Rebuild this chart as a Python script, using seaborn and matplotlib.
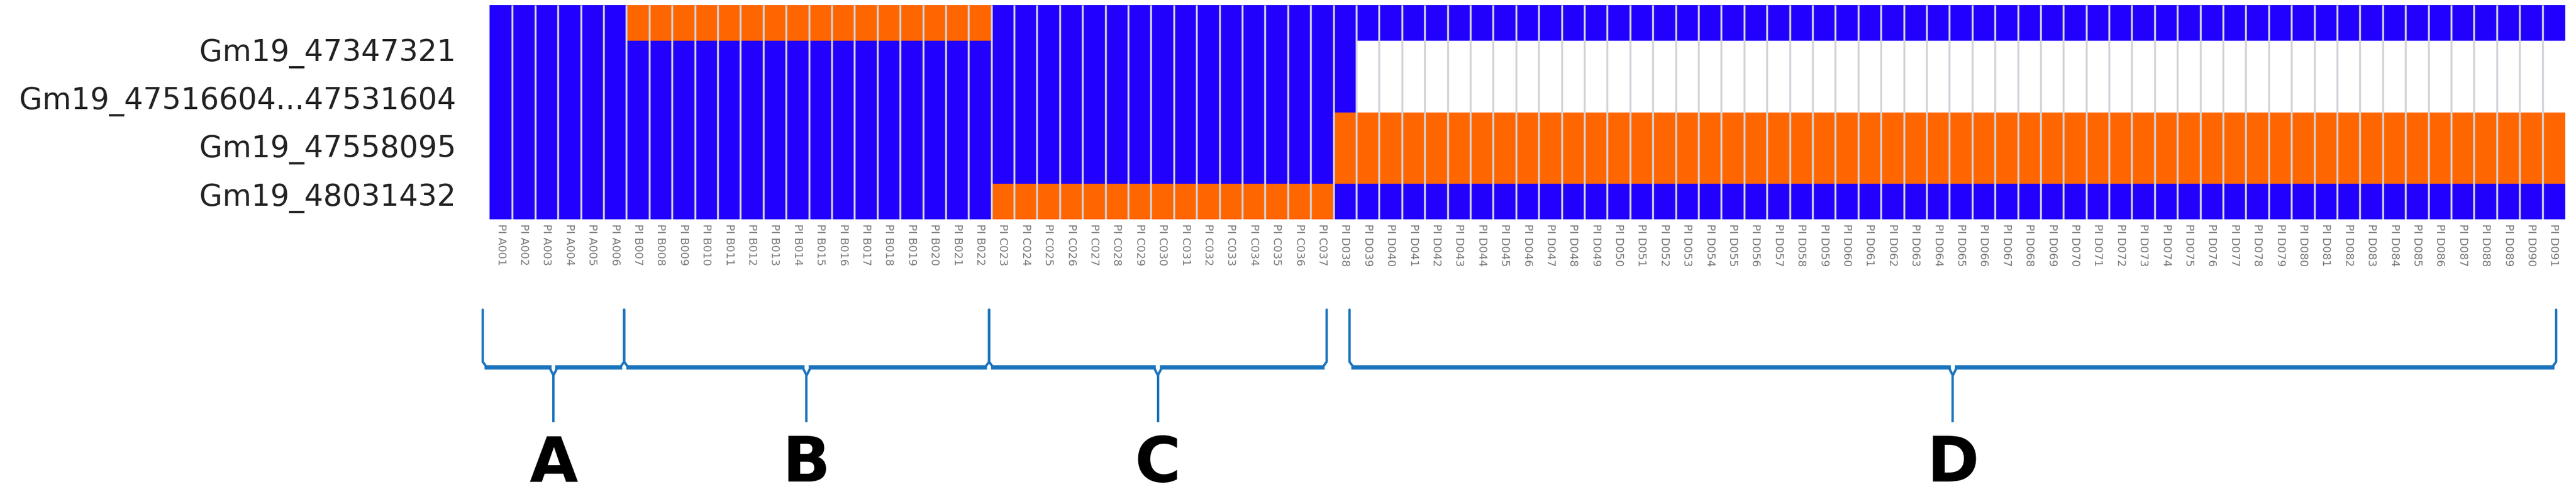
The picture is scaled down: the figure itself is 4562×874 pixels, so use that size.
import matplotlib
matplotlib.use("Agg")
import matplotlib.pyplot as plt
import numpy as np
import seaborn as sns
from matplotlib.colors import ListedColormap
from matplotlib.transforms import blended_transform_factory

# markers (rows) as they appear top to bottom
markers = ["Gm19_47347321", "Gm19_47516604...47531604", "Gm19_47558095", "Gm19_48031432"]

# haplotype groups left to right, number of accessions in each, and allele calls per marker
# 0 = blue allele, 1 = orange allele, nan = missing (white)
hap_names = ["A", "B", "C", "D0", "D"]
hap_counts = [6, 16, 15, 1, 53]
calls_A = [0, 0, 0, 0]
calls_B = [1, 0, 0, 0]
calls_C = [0, 0, 0, 1]
calls_D0 = [0, 0, 1, 0]
calls_D = [0, np.nan, 1, 0]
hap_calls = [calls_A, calls_B, calls_C, calls_D0, calls_D]

# bracket labels and their column spans
brace_labels = ["A", "B", "C", "D"]
brace_start = [-0.3, 5.9, 21.9, 37.7]
brace_end = [5.9, 21.9, 36.7, 90.6]

BLUE = "#2100fe"
ORANGE = "#ff6600"
BRACE = "#1a73bd"

# build the genotype matrix
cols = []
sample_ids = []
for name, n, calls in zip(hap_names, hap_counts, hap_calls):
    for k in range(n):
        cols.append(calls)
        sample_ids.append(f"PI {name[0]}{len(sample_ids) + 1:03d}")
geno = np.array(cols, dtype=float).T

# the source figure draws the middle two markers twice as tall
row_weights = [1, 2, 2, 1]
geno_disp = np.repeat(geno, row_weights, axis=0)

fig = plt.figure(figsize=(45.62, 8.74), dpi=100)
ax = fig.add_axes([867 / 4562, 1 - 388 / 874, (4543 - 867) / 4562, (388 - 9) / 874])

sns.heatmap(
    geno_disp, ax=ax, cmap=ListedColormap([BLUE, ORANGE]), vmin=0, vmax=1,
    cbar=False, xticklabels=sample_ids, yticklabels=False,
)
ax.set_facecolor("white")

# thin grey separators between accessions
n_cols = geno.shape[1]
ax.vlines(np.arange(1, n_cols), 0, geno_disp.shape[0], color="#d2d2da", lw=2.5)

ax.set_yticks(np.linspace(1.25, 5.3, len(markers)))
ax.set_yticklabels(markers, fontsize=38, color="#222222")
ax.tick_params(axis="y", length=0, pad=43)
ax.tick_params(axis="x", length=0, pad=6)
for lab in ax.get_xticklabels():
    lab.set_rotation(-90)
    lab.set_fontsize(14)
    lab.set_color("#777777")
ax.set_xlabel("")
ax.set_ylabel("")

# curly-style brackets under the heatmap
trans = blended_transform_factory(ax.transData, fig.transFigure)


def fy(px):
    return 1 - px / 874


y_top, y_bar, y_tip = 548, 650, 745
for lab, x0, x1 in zip(brace_labels, brace_start, brace_end):
    xc = (x0 + x1) / 2
    d = 0.18
    ax.plot([x0, x0, x0 + d], [fy(y_top), fy(y_bar - 10), fy(y_bar)],
            color=BRACE, lw=3, transform=trans, clip_on=False, solid_capstyle="round")
    ax.plot([x1, x1, x1 - d], [fy(y_top), fy(y_bar - 10), fy(y_bar)],
            color=BRACE, lw=3, transform=trans, clip_on=False, solid_capstyle="round")
    ax.plot([x0 + d, xc - d], [fy(y_bar), fy(y_bar)],
            color=BRACE, lw=5.5, transform=trans, clip_on=False)
    ax.plot([xc + d, x1 - d], [fy(y_bar), fy(y_bar)],
            color=BRACE, lw=5.5, transform=trans, clip_on=False)
    ax.plot([xc - d, xc, xc + d], [fy(y_bar), fy(y_bar + 14), fy(y_bar)],
            color=BRACE, lw=3, transform=trans, clip_on=False)
    ax.plot([xc, xc], [fy(y_bar + 14), fy(y_tip)],
            color=BRACE, lw=3, transform=trans, clip_on=False)
    ax.text(xc, fy(822), lab, transform=trans, ha="center", va="center",
            fontsize=80, fontweight="bold", color="black",
            family=["Liberation Sans Narrow", "DejaVu Sans"])

fig.savefig("out.png", dpi=100)
